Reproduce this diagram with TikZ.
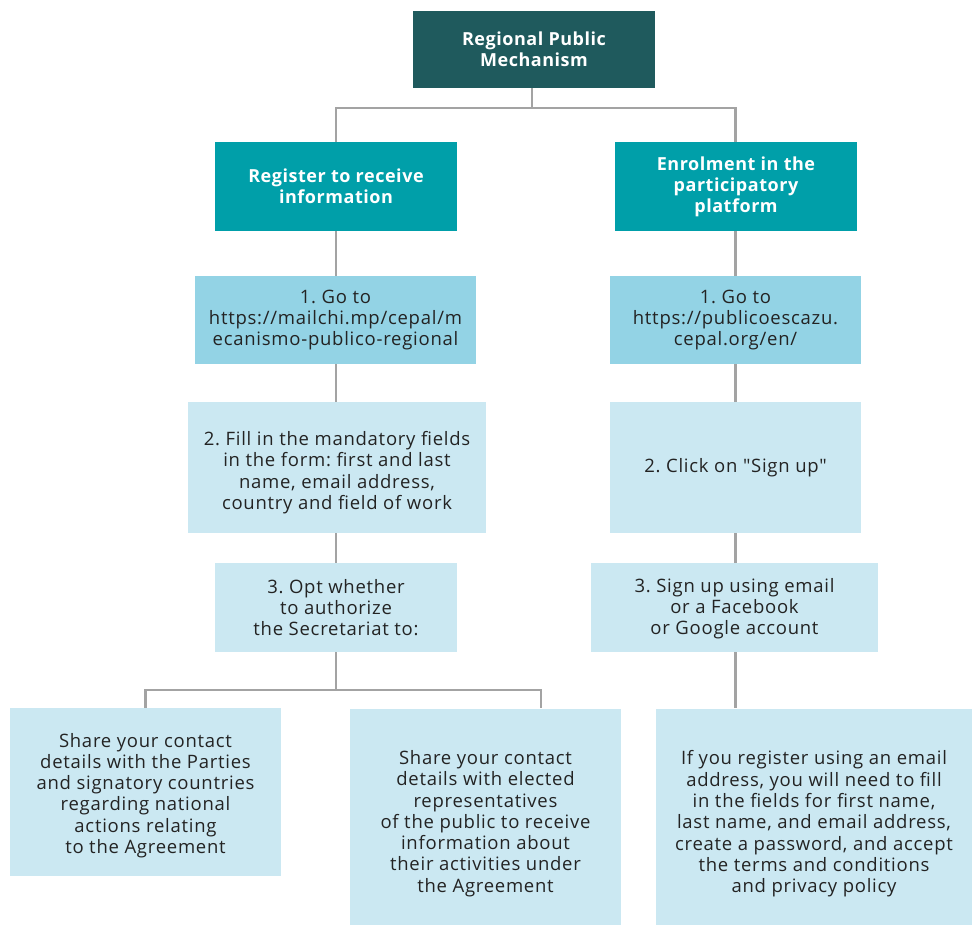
\documentclass[tikz,border=0pt]{standalone}
\usepackage{fontspec}
\setmainfont{Open Sans}[Ligatures=TeXOff, LetterSpace=4]
\newfontfamily\headfont{Open Sans}[Ligatures=TeXOff, LetterSpace=3]
\usetikzlibrary{backgrounds}
\definecolor{headdark}{HTML}{1F5A5D}
\definecolor{headteal}{HTML}{009FA9}
\definecolor{stepmid}{HTML}{93D3E5}
\definecolor{steplight}{HTML}{CBE8F2}
\definecolor{linegray}{HTML}{A3A3A3}
\definecolor{inkdark}{HTML}{232323}
\frenchspacing
\tikzset{
  box/.style={rectangle, inner sep=0pt, align=center, font=\fontsize{18.5}{21.3}\selectfont},
  topbox/.style={box, fill=headdark, text=white, font=\headfont\fontsize{18}{21}\selectfont\bfseries},
  headbox/.style={box, fill=headteal, text=white, font=\headfont\fontsize{18}{21}\selectfont\bfseries},
  firstbox/.style={box, fill=stepmid, text=inkdark},
  stepbox/.style={box, fill=steplight, text=inkdark},
  steptext/.style={box, text=inkdark},
  conn/.style={draw=linegray, line width=2.6pt}
}
\begin{document}
\begin{tikzpicture}[x=1pt,y=-1pt]
\useasboundingbox (0,0) rectangle (972,925);

\node[topbox, minimum width=242pt, minimum height=77pt] (top) at (534,49.5) {Regional Public\\Mechanism};

\node[headbox, minimum width=242pt, minimum height=89pt] (reg) at (336,186.5) {Register to receive\\information};
\node[headbox, minimum width=242pt, minimum height=89pt] (enr) at (736,186.5) {Enrolment in the\\participatory\\platform};

\node[firstbox, minimum width=281pt, minimum height=88pt] (l1) at (335.5,320) {1. Go to\\https://mailchi.mp/cepal/m\\ecanismo-publico-regional};
\node[firstbox, minimum width=251pt, minimum height=88pt] (r1) at (735.5,320) {1. Go to\\https://publicoescazu.\\cepal.org/en/};

\node[stepbox, minimum width=298pt, minimum height=131pt] (l2) at (337,467.5) {};
\node[steptext] (l2text) at ([yshift=-5pt]l2.center) {2. Fill in the mandatory fields\\in the form: first and last\\name, email address,\\country and field of work};
\node[stepbox, minimum width=251pt, minimum height=131pt] (r2) at (735.5,467.5) {2. Click on "Sign up"};

\node[stepbox, minimum width=242pt, minimum height=89pt] (l3) at (336,607.5) {3. Opt whether\\to authorize\\the Secretariat to:};
\node[stepbox, minimum width=287pt, minimum height=89pt] (r3) at (734.5,607.5) {};
\node[steptext] (r3text) at ([yshift=-1pt]r3.center) {3. Sign up using email\\or a Facebook\\or Google account};

\node[stepbox, minimum width=271pt, minimum height=168pt] (b1) at (145.5,792) {};
\node[steptext] (b1text) at ([yshift=-3.5pt]b1.center) {Share your contact\\details with the Parties\\and signatory countries\\regarding national\\actions relating\\to the Agreement};
\node[stepbox, minimum width=271pt, minimum height=216pt] (b2) at (485.5,816.5) {};
\node[steptext] (b2text) at ([yshift=-7pt]b2.center) {Share your contact\\details with elected\\representatives\\of the public to receive\\information about\\their activities under\\the Agreement};
\node[stepbox, minimum width=316pt, minimum height=216pt] (b3) at (814,816.5) {};
\node[steptext] (b3text) at ([yshift=-7.5pt]b3.center) {If you register using an email\\address, you will need to fill\\in the fields for first name,\\last name, and email address,\\create a password, and accept\\the terms and conditions\\and privacy policy};

% junction points of the tree
\coordinate (jtop) at (532,108);
\coordinate (jbot) at (336,690);

\begin{pgfonlayer}{background}
  \draw[conn] (top.south -| jtop) -- (jtop);
  \draw[conn] (reg.north) |- (jtop) -| (enr.north -| r1.north);
  \draw[conn] (reg.south) -- (l1.north -| reg.south);
  \draw[conn] (l1.south -| reg.south) -- (l2.north -| reg.south);
  \draw[conn] (l2.south -| reg.south) -- (l3.north);
  \draw[conn] (l3.south) -- (jbot);
  \draw[conn] (b1.north) |- (jbot) -| (b2.north -| 541,0);
  \draw[conn] (enr.south -| r1.north) -- (r1.north);
  \draw[conn] (r1.south) -- (r2.north);
  \draw[conn] (r2.south) -- (r3.north -| r2.south);
  \draw[conn] (r3.south -| r2.south) -- (b3.north -| r2.south);
\end{pgfonlayer}
\end{tikzpicture}
\end{document}
